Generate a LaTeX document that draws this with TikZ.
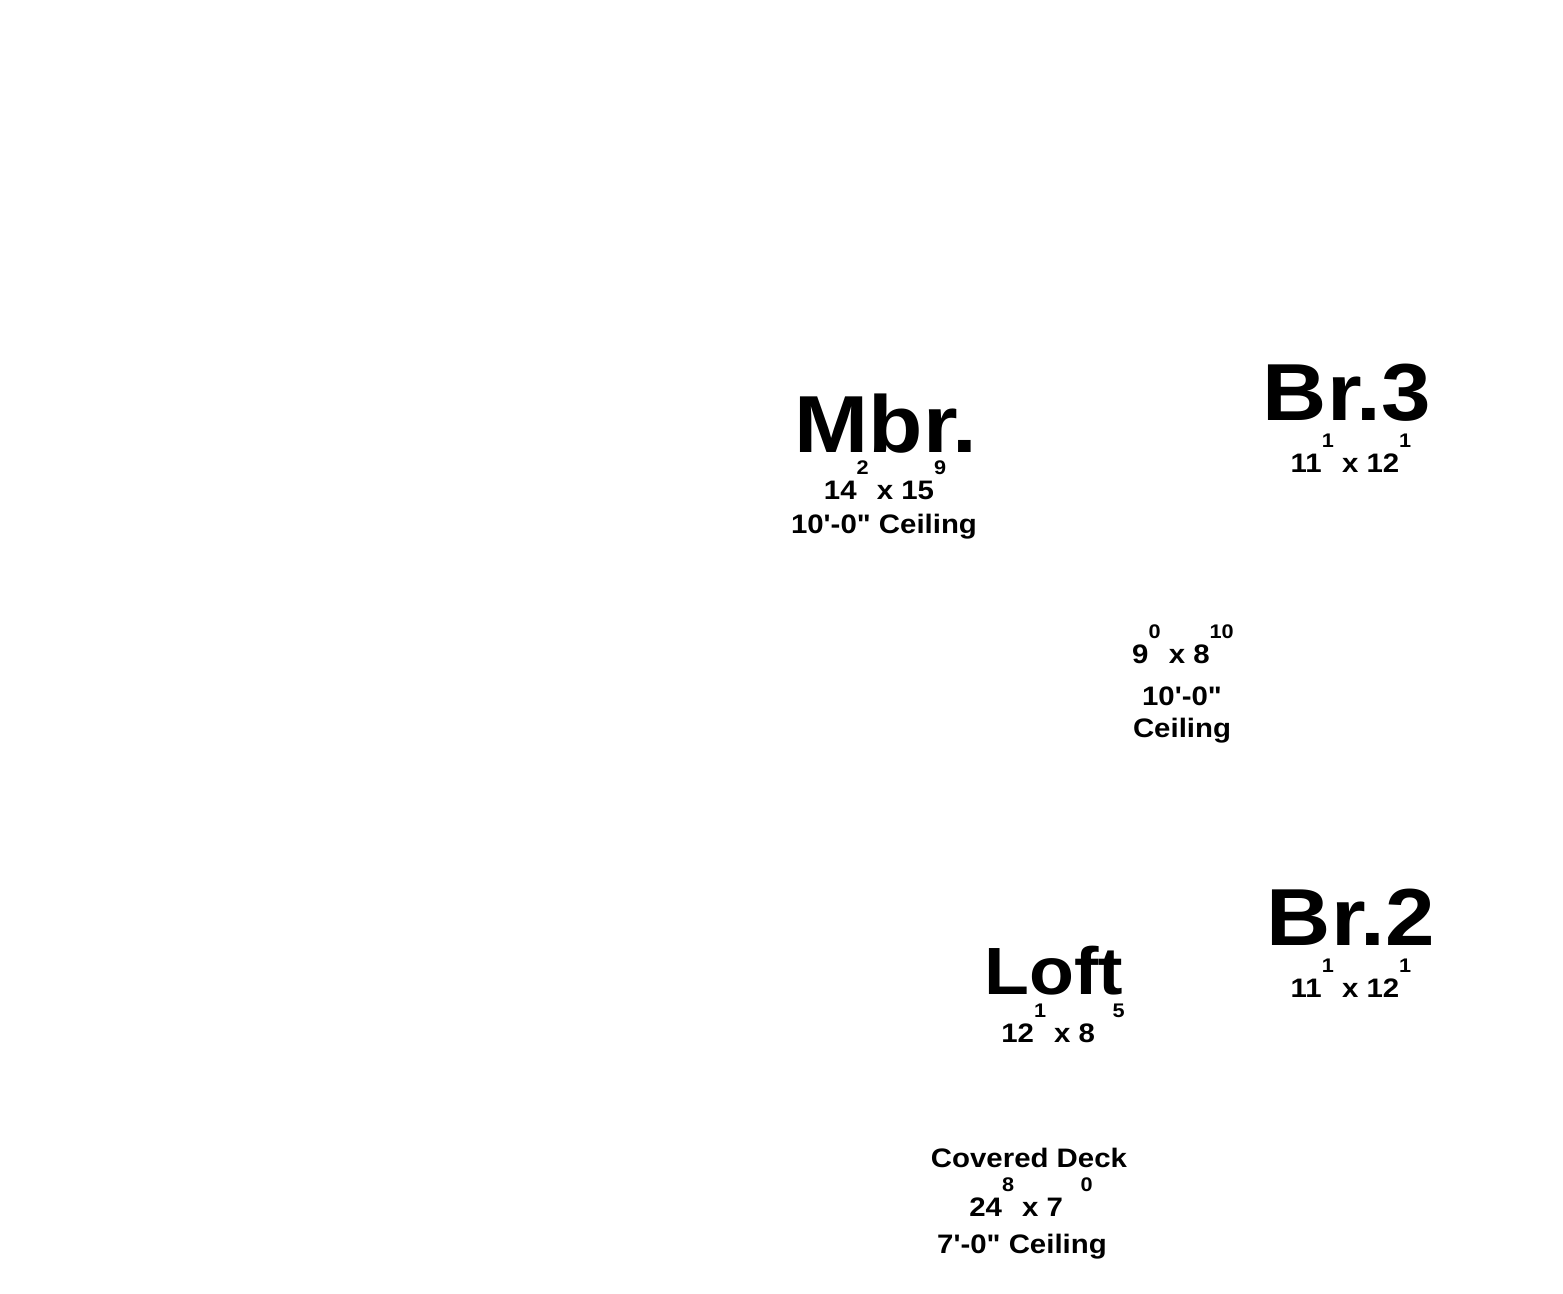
\documentclass[tikz,border=0pt]{standalone}
\usepackage{fontspec}
\newfontfamily\roomfont{Liberation Sans}[FakeStretch=1.1, Ligatures=TeXOff]
\newfontfamily\sizefont{Liberation Sans}[FakeStretch=1.1, Ligatures=TeXOff]
\newcommand{\sups}[1]{\raisebox{7pt}{\fontsize{5.6}{6}\selectfont #1}}

\begin{document}
\begin{tikzpicture}[x=0.01cm, y=-0.01cm,
    room/.style={inner sep=0, anchor=base, font=\fontsize{23}{26}\selectfont\roomfont\bfseries},
    dims/.style={inner sep=0, anchor=base, font=\fontsize{7.6}{9}\selectfont\sizefont\bfseries}]
    \useasboundingbox (0,0) rectangle (1563,1293);
    % master bedroom
    \node[room] (mbr) at (886,452) {Mbr.};
    \node[dims] (mbrsize) at (885,499) {14\sups{2} x 15\sups{9}};
    \node[dims] (mbrceil) at (884,533) {10'-0" Ceiling};
    % bedroom 3
    \node[room] (brthree) at (1347,420) {Br.3};
    \node[dims] (brthreesize) at (1351,472) {11\sups{1} x 12\sups{1}};
    % bath
    \node[dims] (bathsize) at (1183,663) {9\sups{0} x 8\sups{10}};
    \node[dims] (bathceil) at (1182,705) {10'-0"};
    \node[dims] (bathceiltxt) at (1182,737) {Ceiling};
    % bedroom 2
    \node[room] (brtwo) at (1351,945) {Br.2};
    \node[dims] (brtwosize) at (1351,997) {11\sups{1} x 12\sups{1}};
    % loft
    \node[room, font=\fontsize{19}{22}\selectfont\roomfont\bfseries] (loft) at (1054,994) {Loft};
    \node[dims] (loftsize) at (1063,1042) {12\sups{1} x 8\hspace{5pt}\sups{5}};
    % covered deck
    \node[dims] (deck) at (1029,1167) {Covered Deck};
    \node[dims] (decksize) at (1031,1216) {24\sups{8} x 7\hspace{5pt}\sups{0}};
    \node[dims] (deckceil) at (1022,1253) {7'-0" Ceiling};
\end{tikzpicture}
\end{document}
